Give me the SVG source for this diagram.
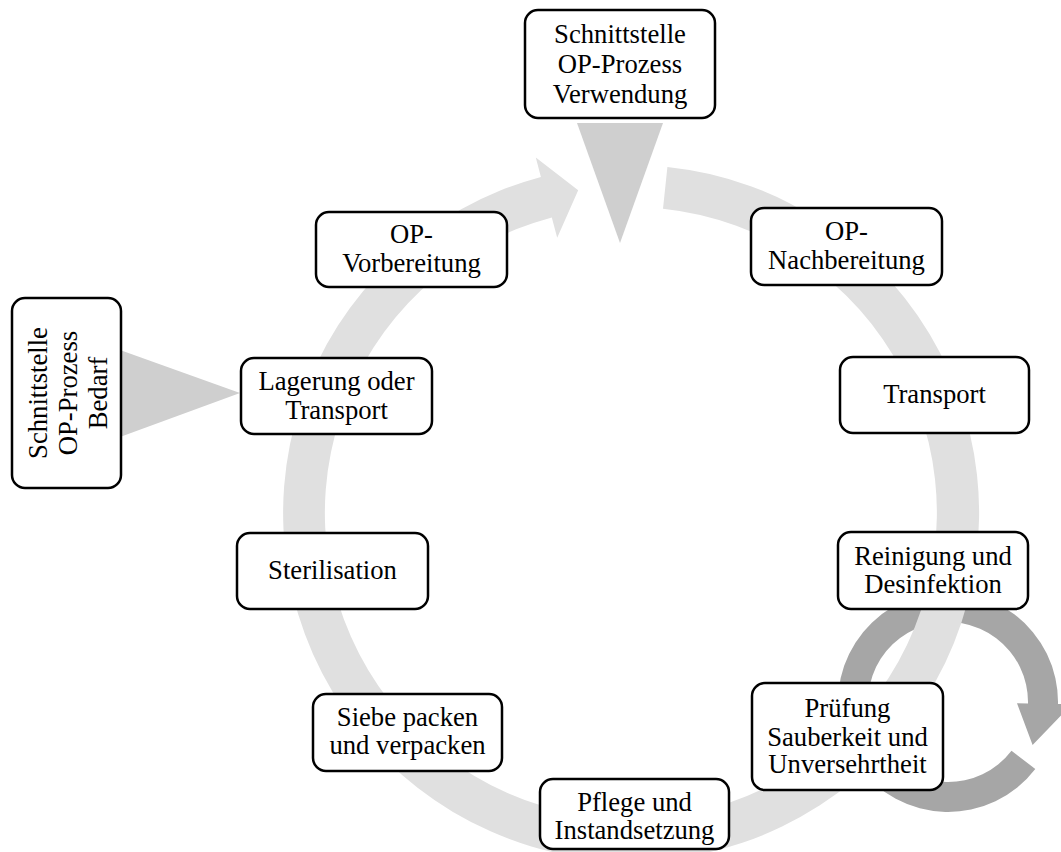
<svg xmlns="http://www.w3.org/2000/svg" width="1061" height="852" viewBox="0 0 1061 852">
  <style>
    .box { fill: #ffffff; stroke: #000000; stroke-width: 2.5; }
    .lbl { font-family: "Liberation Serif", "Times New Roman", serif; font-size: 26.67px; fill: #000000; text-anchor: middle; }
    .ring { fill: #e0e0e0; }
    .loop { fill: #a6a6a6; }
    .wedge { fill: #cfcfcf; }
  </style>

  <!-- connectors: cycle band, inner loop and interface wedges -->
  <g id="connectors">
    <path id="inner-loop" class="loop" d="M 1035.3 769.0 A 110 110 0 1 1 1058.0 703.9 L 1072.0 704.2 L 1032.6 745.1 L 1017.0 703.2 L 1028.0 703.4 A 80 80 0 1 0 1011.5 750.7 Z"/>
    <path id="cycle" class="ring" d="M 667.4 166.9 A 348 348 0 1 1 540.9 176.9 L 535.8 157.5 L 578.2 190.3 L 557.2 237.7 L 551.8 217.4 A 306 306 0 1 0 663.0 208.7 Z"/>
    <polygon id="wedge-top" class="wedge" points="577,123 663,123 620,243"/>
    <polygon id="wedge-left" class="wedge" points="120,350 120,437 240,393"/>
  </g>

  <g id="node-verwendung">
    <rect class="box" x="525" y="10" width="190" height="108" rx="13"/>
    <text class="lbl"><tspan x="620" y="42.5">Schnittstelle</tspan><tspan x="620" y="73">OP-Prozess</tspan><tspan x="620" y="103">Verwendung</tspan></text>
  </g>

  <g id="node-vorbereitung">
    <rect class="box" x="316" y="212" width="191" height="75" rx="13"/>
    <text class="lbl"><tspan x="411.5" y="243">OP-</tspan><tspan x="411.5" y="272">Vorbereitung</tspan></text>
  </g>

  <g id="node-nachbereitung">
    <rect class="box" x="751" y="208" width="191" height="77" rx="13"/>
    <text class="lbl"><tspan x="846.5" y="240">OP-</tspan><tspan x="846.5" y="269">Nachbereitung</tspan></text>
  </g>

  <g id="node-bedarf">
    <rect class="box" x="12" y="298" width="109" height="190" rx="13"/>
    <text class="lbl" transform="translate(66.5,393) rotate(-90)"><tspan x="0" y="-20">Schnittstelle</tspan><tspan x="0" y="10">OP-Prozess</tspan><tspan x="0" y="40">Bedarf</tspan></text>
  </g>

  <g id="node-lagerung">
    <rect class="box" x="241" y="358" width="191" height="76" rx="13"/>
    <text class="lbl"><tspan x="336.5" y="390">Lagerung oder</tspan><tspan x="336.5" y="419">Transport</tspan></text>
  </g>

  <g id="node-transport">
    <rect class="box" x="840" y="357" width="189" height="76" rx="13"/>
    <text class="lbl" x="934.5" y="403">Transport</text>
  </g>

  <g id="node-reinigung">
    <rect class="box" x="838" y="532" width="190" height="77" rx="13"/>
    <text class="lbl"><tspan x="933" y="565">Reinigung und</tspan><tspan x="933" y="593">Desinfektion</tspan></text>
  </g>

  <g id="node-sterilisation">
    <rect class="box" x="237" y="533" width="191" height="76" rx="13"/>
    <text class="lbl" x="332.5" y="579">Sterilisation</text>
  </g>

  <g id="node-pruefung">
    <rect class="box" x="752" y="683" width="191" height="107" rx="13"/>
    <text class="lbl"><tspan x="847.5" y="717">Prüfung</tspan><tspan x="847.5" y="745.5">Sauberkeit und</tspan><tspan x="847.5" y="773">Unversehrtheit</tspan></text>
  </g>

  <g id="node-siebe">
    <rect class="box" x="313" y="694" width="189" height="77" rx="13"/>
    <text class="lbl"><tspan x="407.5" y="726">Siebe packen</tspan><tspan x="407.5" y="754">und verpacken</tspan></text>
  </g>

  <g id="node-pflege">
    <rect class="box" x="540" y="779" width="189" height="70" rx="13"/>
    <text class="lbl"><tspan x="634.5" y="811">Pflege und</tspan><tspan x="634.5" y="839">Instandsetzung</tspan></text>
  </g>
</svg>
